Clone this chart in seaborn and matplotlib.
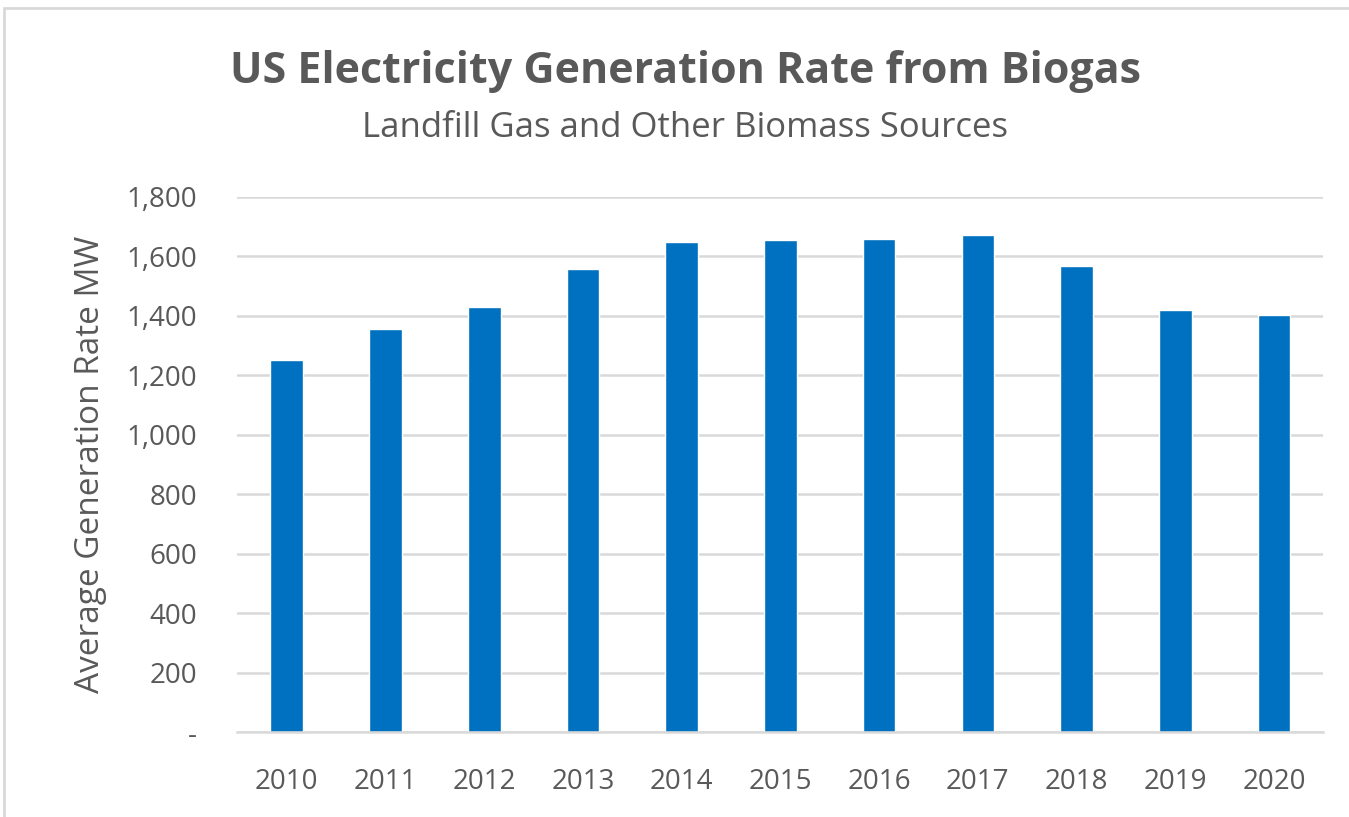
import matplotlib
matplotlib.use("Agg")
import matplotlib.pyplot as plt
import seaborn as sns
import pandas as pd
from matplotlib.patches import Rectangle

# values
years = ["2010", "2011", "2012", "2013", "2014", "2015", "2016", "2017", "2018", "2019", "2020"]
rate_mw = [1253, 1354, 1428, 1556, 1647, 1654, 1660, 1673, 1569, 1421, 1404]
y_ticks = [0, 200, 400, 600, 800, 1000, 1200, 1400, 1600, 1800]
y_tick_labels = ["-", "200", "400", "600", "800", "1,000", "1,200", "1,400", "1,600", "1,800"]

df = pd.DataFrame({"Year": years, "Rate": rate_mw})

sns.set_theme(style="white")
plt.rcParams['font.family'] = ['Open Sans', 'DejaVu Sans']
text_col = "#595959"

fig = plt.figure(figsize=(13.49, 8.17), dpi=100)
ax = fig.add_axes([0.176, 0.104, 0.805, 0.655])

sns.barplot(data=df, x="Year", y="Rate", color="#0070C0", width=0.33, saturation=1, ax=ax)

ax.set_ylim(0, 1800)
ax.set_xlim(-0.5, len(years) - 0.5)
ax.set_yticks(y_ticks)
ax.set_yticklabels(y_tick_labels)
ax.yaxis.grid(True, color="#D9D9D9", linewidth=1.8)
ax.set_axisbelow(True)
sns.despine(ax=ax, left=True, top=True, right=True)
ax.spines["bottom"].set_color("#D9D9D9")
ax.spines["bottom"].set_linewidth(1.8)
ax.tick_params(axis="both", length=0, labelsize=20, labelcolor=text_col)
ax.tick_params(axis="x", pad=26)
ax.tick_params(axis="y", pad=29)
ax.set_xlabel("")
ax.set_ylabel("Average Generation Rate MW", fontsize=24, color=text_col, labelpad=14)

fig.text(0.508, 0.912, "US Electricity Generation Rate from Biogas", ha="center", va="center",
         fontsize=31, fontweight="bold", color=text_col)
fig.text(0.508, 0.843, "Landfill Gas and Other Biomass Sources", ha="center", va="center",
         fontsize=25, color=text_col)

# light frame around the chart
fig.patches.append(Rectangle((0.003, -0.01), 1.2, 1.0, transform=fig.transFigure,
                             fill=False, edgecolor="#D9D9D9", linewidth=2))

plt.savefig("out.png", dpi=100)
